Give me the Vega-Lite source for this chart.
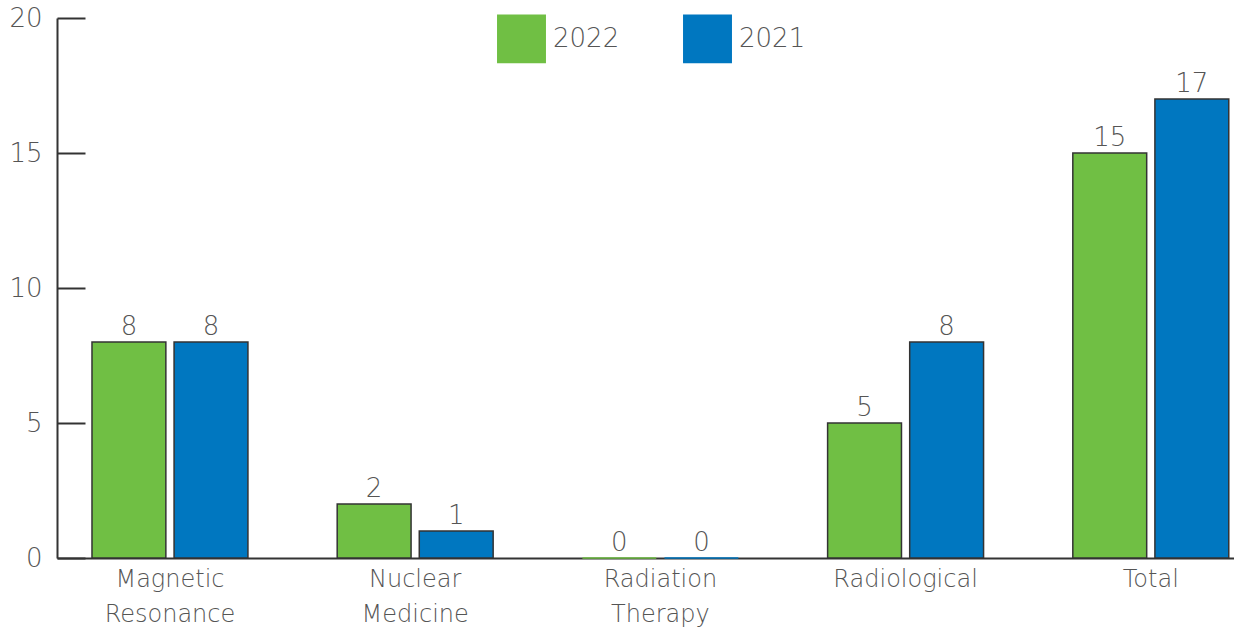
{
  "$schema": "https://vega.github.io/schema/vega-lite/v6.json",
  "width": 1177,
  "height": 540,
  "autosize": "none",
  "padding": {"left": 57, "top": 18, "right": 0, "bottom": 71},
  "background": "white",
  "config": {
    "view": {"stroke": null},
    "font": "DejaVu Sans",
    "axis": {"labelFont": "DejaVu Sans", "labelFontWeight": 200, "labelColor": "#555"}
  },
  "data": {
    "values": [
      {"category": "Magnetic Resonance", "year": "2022", "value": 8},
      {"category": "Magnetic Resonance", "year": "2021", "value": 8},
      {"category": "Nuclear Medicine", "year": "2022", "value": 2},
      {"category": "Nuclear Medicine", "year": "2021", "value": 1},
      {"category": "Radiation Therapy", "year": "2022", "value": 0},
      {"category": "Radiation Therapy", "year": "2021", "value": 0},
      {"category": "Radiological", "year": "2022", "value": 5},
      {"category": "Radiological", "year": "2021", "value": 8},
      {"category": "Total", "year": "2022", "value": 15},
      {"category": "Total", "year": "2021", "value": 17}
    ]
  },
  "encoding": {
    "x": {
      "field": "category",
      "type": "nominal",
      "sort": null,
      "scale": {"paddingInner": 0.364, "paddingOuter": 0.082, "align": 0.87},
      "axis": {
        "title": null,
        "labelAngle": 0,
        "ticks": false,
        "domainColor": "#333",
        "domainWidth": 2,
        "labelFontSize": 24,
        "labelPadding": 9,
        "labelBaseline": "top",
        "labelLineHeight": 35,
        "labelExpr": "split(datum.label, ' ')"
      }
    },
    "xOffset": {
      "field": "year",
      "type": "nominal",
      "sort": ["2022", "2021"],
      "scale": {"paddingInner": 0.1, "paddingOuter": 0}
    },
    "y": {
      "field": "value",
      "type": "quantitative",
      "scale": {"domain": [0, 20], "nice": false},
      "axis": {
        "title": null,
        "values": [0, 5, 10, 15, 20],
        "grid": false,
        "domainColor": "#333",
        "domainWidth": 2,
        "tickColor": "#333",
        "tickWidth": 2,
        "tickSize": -28,
        "labelFontSize": 26,
        "labelPadding": 43
      }
    }
  },
  "layer": [
    {
      "mark": {"type": "bar", "strokeWidth": 1.5},
      "encoding": {
        "color": {
          "field": "year",
          "type": "nominal",
          "sort": ["2022", "2021"],
          "scale": {"domain": ["2022", "2021"], "range": ["#70BF44", "#0077C0"]},
          "legend": {
            "title": null,
            "orient": "none",
            "legendX": 440,
            "legendY": -4,
            "direction": "horizontal",
            "padding": 0,
            "symbolType": "square",
            "symbolSize": 2250,
            "symbolStrokeColor": "#333",
            "symbolStrokeWidth": 1.5,
            "labelFont": "DejaVu Sans",
            "labelFontWeight": 200,
            "labelFontSize": 26,
            "labelColor": "#555",
            "labelOffset": 7,
            "columnPadding": 60,
            "encode": {"symbols": {"update": {"stroke": {"value": "#333"}, "strokeWidth": {"value": 1.5}}}}
          }
        },
        "stroke": {
          "condition": {"test": "datum.value > 0", "value": "#333"},
          "field": "year",
          "type": "nominal",
          "scale": {"domain": ["2022", "2021"], "range": ["#70BF44", "#0077C0"]},
          "legend": null
        }
      }
    },
    {
      "mark": {"type": "text", "baseline": "alphabetic", "dy": -7, "font": "DejaVu Sans", "fontWeight": 200, "fontSize": 26, "fill": "#555"},
      "encoding": {"text": {"field": "value", "type": "quantitative"}}
    }
  ]
}
